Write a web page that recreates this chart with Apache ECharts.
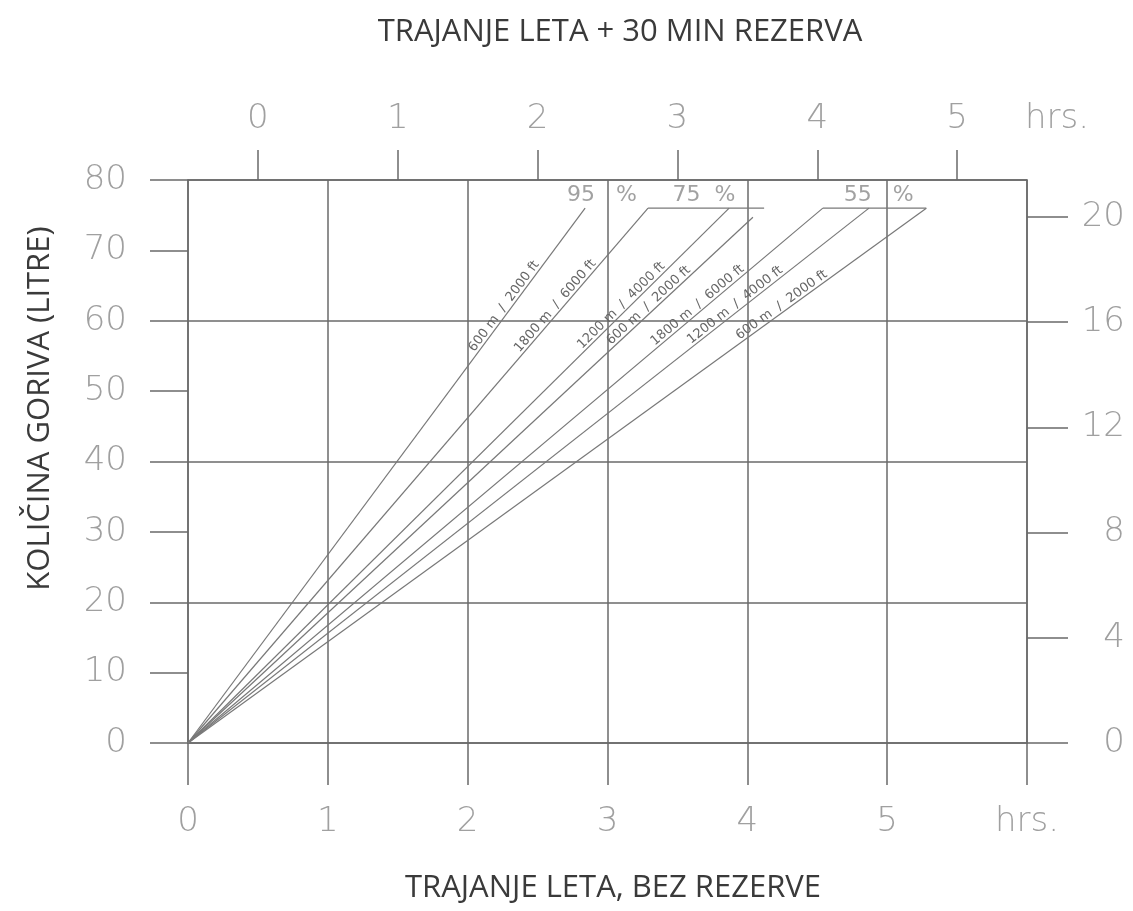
<!DOCTYPE html>
<html>
<head>
<meta charset="utf-8">
<script src="https://cdn.jsdelivr.net/npm/echarts@6/dist/echarts.min.js"></script>
<style>
html,body{margin:0;padding:0;background:#fff;}
#chart{width:1133px;height:911px;}
</style>
</head>
<body>
<div id="chart"></div>
<script>
// ---- data ----
const bottomHourTicks = [0, 1, 2, 3, 4, 5, 6];
const topHourTicks = [0, 1, 2, 3, 4, 5];
const unitLabel = 'hrs.';
const litreTicksInterval = 10;
const gallonTicks = [0, 4, 8, 12, 16, 20];
const gallonAxisMax = 21.4;          // 80 litres expressed on the gallon scale
const reserveShiftHours = 0.5;       // 30 min reserve

// fuel lines (hours without reserve, litres at the end of each line)
const lineLabels = ['600 m  /  2000 ft', '1800 m  /  6000 ft', '1200 m  /  4000 ft', '600 m  /  2000 ft',
                    '1800 m  /  6000 ft', '1200 m  /  4000 ft', '600 m  /  2000 ft'];
const lineEndHours  = [2.84, 3.29, 3.87, 4.04, 4.54, 4.87, 5.28];
const lineEndLitres = [76, 76, 76, 74.7, 76, 76, 76];
const lineLabelLitre = 61.5;

// horizontal caps at the top of the line groups
const capFromHours = [3.29, 4.54];
const capToHours   = [4.12, 5.28];
const capLitres    = [76, 76];

// power setting labels
const powerLabels      = ['95   %', '75  %', '55   %'];
const powerLabelHours  = [2.96, 3.69, 4.94];
const powerLabelLitres = [77.8, 77.8, 77.8];

// ---- chart ----
const AX = '#6a6a6a';
const LN = '#787878';
const TICKFONT = {fontFamily: 'DejaVu Sans', fontSize: 34, color: '#a0a0a0', fontWeight: 300};
const TITLEFONT = {fontFamily: 'Open Sans', fontSize: 31, fontWeight: 'normal', color: '#3a3a3a'};

const series = [];
lineEndHours.forEach((h, i) => {
  series.push({
    type: 'line', xAxisIndex: 0, yAxisIndex: 0, showSymbol: false, silent: true,
    lineStyle: {color: LN, width: 1.2},
    data: [[0, 0], [h, lineEndLitres[i]]]
  });
});
capFromHours.forEach((h, i) => {
  series.push({
    type: 'line', xAxisIndex: 0, yAxisIndex: 0, showSymbol: false, silent: true,
    lineStyle: {color: LN, width: 1.2},
    data: [[h, capLitres[i]], [capToHours[i], capLitres[i]]]
  });
});
series.push({
  type: 'custom', xAxisIndex: 0, yAxisIndex: 0, silent: true,
  data: lineEndHours.map((h, i) => [h, lineEndLitres[i], lineLabelLitre]),
  renderItem: function (params, api) {
    const eh = api.value(0), el = api.value(1), ll = api.value(2);
    const p0 = api.coord([0, 0]);
    const p1 = api.coord([eh, el]);
    const pa = api.coord([eh * ll / el, ll]);
    const ang = Math.atan2(p0[1] - p1[1], p1[0] - p0[0]);
    return {
      type: 'text', x: pa[0], y: pa[1], rotation: ang,
      style: {text: lineLabels[params.dataIndex], align: 'center', verticalAlign: 'bottom',
              fontSize: 13, fontFamily: 'DejaVu Sans', fill: '#666'}
    };
  }
});
series.push({
  type: 'scatter', xAxisIndex: 0, yAxisIndex: 0, symbolSize: 0, silent: true,
  data: powerLabelHours.map((h, i) => [h, powerLabelLitres[i]]),
  label: {show: true, position: 'inside', formatter: p => powerLabels[p.dataIndex],
          fontFamily: 'DejaVu Sans', fontSize: 22, color: '#8a8a8a'}
});

const option = {
  animation: false,
  backgroundColor: '#fff',
  title: [
    {text: 'TRAJANJE LETA + 30 MIN REZERVA', left: 615, top: 12, textAlign: 'center', textStyle: TITLEFONT},
    {text: 'TRAJANJE LETA, BEZ REZERVE', left: 608, top: 868, textAlign: 'center', textStyle: TITLEFONT}
  ],
  grid: {left: 188, right: 106, top: 180, bottom: 168, containLabel: false},
  xAxis: [
    {type: 'value', position: 'bottom', min: bottomHourTicks[0], max: bottomHourTicks[bottomHourTicks.length - 1], interval: 1,
     axisLine: {show: true, onZero: false, lineStyle: {color: AX, width: 1.5}},
     axisTick: {show: true, inside: false, length: 42, lineStyle: {color: AX, width: 1.5}},
     axisLabel: Object.assign({margin: 62, formatter: v => v === bottomHourTicks[bottomHourTicks.length - 1] ? unitLabel : String(v)}, TICKFONT),
     splitLine: {show: true, lineStyle: {color: AX, width: 1.5}}},
    {type: 'value', position: 'top', min: -reserveShiftHours, max: bottomHourTicks[bottomHourTicks.length - 1] - reserveShiftHours,
     axisLine: {show: true, onZero: false, lineStyle: {color: AX, width: 1.5}},
     axisTick: {show: true, inside: false, length: 30, customValues: topHourTicks, lineStyle: {color: AX, width: 1.5}},
     axisLabel: Object.assign({margin: 44, customValues: topHourTicks.concat([bottomHourTicks[bottomHourTicks.length - 1] - reserveShiftHours]),
       formatter: v => topHourTicks.indexOf(v) >= 0 ? String(v) : '{h|' + unitLabel + '}',
       rich: {h: {fontFamily: 'DejaVu Sans', fontSize: 34, color: '#a0a0a0', padding: [0, 0, 0, 60]}}}, TICKFONT),
     splitLine: {show: false}}
  ],
  yAxis: [
    {type: 'value', position: 'left', min: 0, max: 80, interval: litreTicksInterval,
     name: 'KOLIČINA GORIVA (LITRE)', nameLocation: 'middle', nameGap: 132,
     nameTextStyle: Object.assign({padding: [0, 0, 0, 106]}, TITLEFONT),
     axisLine: {show: true, onZero: false, lineStyle: {color: AX, width: 1.5}},
     axisTick: {show: true, inside: false, length: 38, lineStyle: {color: AX, width: 1.5}},
     axisLabel: Object.assign({margin: 61}, TICKFONT),
     splitLine: {show: false}},
    {type: 'value', position: 'right', min: 0, max: gallonAxisMax,
     axisLine: {show: true, onZero: false, lineStyle: {color: AX, width: 1.5}},
     axisTick: {show: true, inside: false, length: 41, customValues: gallonTicks, lineStyle: {color: AX, width: 1.5}},
     axisLabel: Object.assign({margin: 98, align: 'right', customValues: gallonTicks}, TICKFONT),
     splitLine: {show: false}},
    {type: 'value', position: 'left', min: 0, max: 80, interval: 20,
     axisLine: {show: false}, axisTick: {show: false}, axisLabel: {show: false},
     splitLine: {show: true, lineStyle: {color: AX, width: 1.5}}}
  ],
  series: series
};

const chart = echarts.init(document.getElementById('chart'), null, {renderer: 'canvas'});
chart.setOption(option);
</script>
</body>
</html>
